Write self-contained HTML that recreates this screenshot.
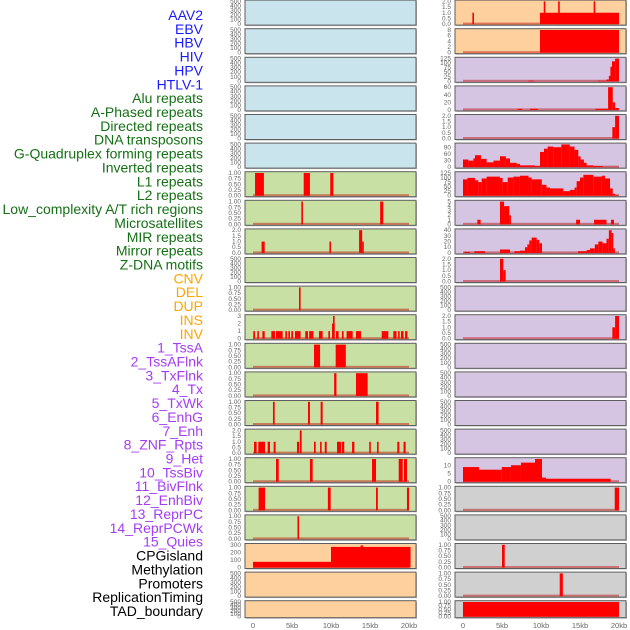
<!DOCTYPE html>
<html><head><meta charset="utf-8">
<style>
html,body{margin:0;padding:0;background:#fff;}
svg{display:block;font-family:"Liberation Sans",sans-serif;}
</style></head>
<body>
<svg id="chart" width="630" height="630" viewBox="0 0 630 630" xmlns="http://www.w3.org/2000/svg"></svg>
<script>
// ---- data ----
const labelNames = ["AAV2","EBV","HBV","HIV","HPV","HTLV-1","Alu repeats","A-Phased repeats","Directed repeats","DNA transposons","G-Quadruplex forming repeats","Inverted repeats","L1 repeats","L2 repeats","Low_complexity A/T rich regions","Microsatellites","MIR repeats","Mirror repeats","Z-DNA motifs","CNV","DEL","DUP","INS","INV","1_TssA","2_TssAFlnk","3_TxFlnk","4_Tx","5_TxWk","6_EnhG","7_Enh","8_ZNF_Rpts","9_Het","10_TssBiv","11_BivFlnk","12_EnhBiv","13_ReprPC","14_ReprPCWk","15_Quies","CPGisland","Methylation","Promoters","ReplicationTiming","TAD_boundary"];
const labelGroups = ["v","v","v","v","v","v","r","r","r","r","r","r","r","r","r","r","r","r","r","s","s","s","s","s","c","c","c","c","c","c","c","c","c","c","c","c","c","c","c","o","o","o","o","o"];
const xTickKb = [0,5,10,15,20];
const xTickLabels = ["0","5kb","10kb","15kb","20kb"];

const ticks500 = [0,100,200,300,400,500];
const ticks1q = [0,0.25,0.5,0.75,1];
const ticks2h = [0,0.5,1,1.5,2];
const ticks3 = [0,1,2,3];
const ticks300 = [0,100,200,300];
const ticks8 = [0,2,4,6,8];
const ticks125 = [0,25,50,75,100,125];
const ticks60 = [0,20,40,60];
const ticks90 = [0,30,60,90];
const ticks5 = [0,1,2,3,4,5];
const ticks40 = [0,10,20,30,40];
const ticks10 = [0,5,10];

// segments: [startKb, endKb, value]
const segL06 = [[0.26,1.4,1],[6.5,7.3,1],[9.9,10.3,1]];
const segL07 = [[6.2,6.4,1],[16.3,16.7,1]];
const segL08 = [[1.1,1.5,1],[9.8,10.0,1],[13.6,14.0,2],[14.0,14.2,1]];
const segL10 = [[5.9,6.1,1]];
const segL11 = [[0.04,0.26,1],[0.55,0.72,1],[1.2,1.5,1],[2.35,2.82,1],[2.95,3.8,1],[4.15,4.36,1],[4.53,4.74,1],[4.91,5.13,1],[5.38,6.1,1],[6.7,7.05,1],[7.2,7.74,1],[8.46,8.93,1],[9.66,9.87,1],[10.13,10.47,2],[10.26,10.38,3],[10.64,10.98,1],[11.4,11.62,1],[12.0,12.78,1],[13.2,13.85,1],[16.5,17.35,1],[17.99,18.4,1],[18.6,18.76,1],[18.97,19.3,1],[19.5,19.8,1]];
const segL12 = [[7.82,8.6,1],[10.6,11.9,1]];
const segL13 = [[10.4,10.7,1],[13.2,14.7,1]];
const segL14 = [[2.56,2.78,1],[7.05,7.3,1],[8.67,8.93,1],[15.77,16.1,1]];
const segL15 = [[0.13,0.47,1],[0.68,1.54,1],[1.88,2.18,1],[2.65,2.9,1],[5.64,5.9,1],[6.0,6.24,2],[7.82,8.04,1],[8.6,8.8,1],[9.2,9.45,1],[10.77,11.3,1],[11.4,11.7,1],[12.7,13.0,1],[14.9,15.1,1],[15.9,16.1,1],[18.5,18.76,1],[19.3,19.57,1]];
const segL16 = [[2.95,3.3,1],[7.3,7.65,1],[15.26,15.77,1],[18.68,19.2,1],[19.35,19.74,1]];
const segL17 = [[0.72,1.54,1],[9.6,9.96,1],[15.77,16.0,1],[19.74,20,1]];
const segL18 = [[5.7,5.9,1]];
const segL19 = [[0,10,75],[10,20.2,272],[13.8,14.1,292]];

const segR00 = [[1.2,1.37,1],[9.87,20,1],[10.35,10.5,2],[12.2,12.35,2],[16.75,16.9,2]];
const segR01 = [[9.87,20,8]];
const segR02 = [[8.4,9.1,3],[17.3,18.4,3],[18.4,18.7,10],[18.7,18.9,30],[18.9,19.1,80],[19.1,19.5,110],[19.5,20,125]];
const segR03 = [[7.0,7.6,3],[8.6,9.6,3],[17.0,18.6,3],[18.6,19.2,60],[19.2,19.5,20],[19.5,20,5]];
const segR04 = [[19.15,19.5,1],[19.5,20,2]];
const segR05 = [[0,0.68,35],[0.68,1.32,30],[1.32,1.54,40],[1.54,2.3,55],[2.3,3.03,38],[3.03,3.9,22],[3.9,4.74,30],[4.74,5.5,50],[5.5,6.03,40],[6.03,6.88,20],[6.88,7.3,15],[7.3,9.2,8],[9.2,9.87,5],[9.87,10.38,70],[10.38,10.85,85],[10.85,11.58,95],[11.58,12.6,92],[12.6,13.7,105],[13.7,14.3,95],[14.3,14.78,80],[14.78,15.08,50],[15.08,15.5,35],[15.5,15.85,20],[15.85,16.7,8],[16.7,17.9,5],[17.9,19.91,1]];
const segR06 = [[0,0.56,90],[0.56,1.54,98],[1.54,1.97,85],[1.97,2.39,75],[2.39,3.03,95],[3.03,4.74,105],[4.74,5.08,98],[5.08,5.73,75],[5.73,6.45,100],[6.45,7.3,105],[7.3,8.4,110],[8.4,8.8,100],[8.8,10.1,90],[10.1,10.7,60],[10.7,11.15,45],[11.15,12.86,40],[12.86,13.7,25],[13.7,14.3,32],[14.3,14.57,45],[14.57,15.0,80],[15.0,15.43,100],[15.43,16.7,115],[16.7,17.8,105],[17.8,18.2,110],[18.2,18.85,95],[18.85,19.2,40],[19.2,19.49,10],[19.49,19.91,3]];
const segR07 = [[1.84,2.26,1],[4.74,5.26,5],[5.26,5.94,4],[5.94,6.03,2],[14.5,15.0,1],[16.8,18.4,1],[18.97,19.36,1]];
const segR08 = [[0.18,0.9,2],[1.45,2.82,3],[4.74,6.03,6],[6.58,7.3,3],[7.3,7.95,4],[7.95,8.25,10],[8.25,8.5,15],[8.5,8.8,22],[8.8,9.44,27],[9.44,9.78,23],[9.78,10.13,17],[14.74,15.85,3],[15.85,16.28,5],[16.28,16.9,8],[16.9,17.35,15],[17.35,17.9,20],[17.9,18.4,17],[18.4,18.7,25],[18.7,19.06,40],[19.06,19.27,35],[19.27,19.44,8]];
const segR09 = [[4.74,5.17,2],[5.17,5.47,1]];
const segR11 = [[19.15,19.5,1],[19.5,20,2]];
const segR16 = [[0,2.05,8.9],[2.05,4.97,7.3],[4.97,6.15,8.9],[6.15,7.43,10],[7.43,9.23,11.6],[9.23,10.13,13.8],[10.13,10.64,2.5],[10.64,18.93,1.8]];
const segR17 = [[19.45,20,1]];
const segR19 = [[5.0,5.35,1]];
const segR20 = [[12.4,12.8,1]];
const segR21 = [[0,20,1]];

// panel styling / config (not data values)
const BG = {b:"#c9e4ec", g:"#c9e0a4", o:"#fed09d", p:"#d5c5e2", k:"#d0d0d0"};
const leftPanels = [
 ["b",ticks500,null,500],["b",ticks500,null,500],["b",ticks500,null,500],["b",ticks500,null,500],["b",ticks500,null,500],["b",ticks500,null,500],
 ["g",ticks1q,segL06,1],["g",ticks1q,segL07,1],["g",ticks2h,segL08,2],["g",ticks500,null,500],["g",ticks1q,segL10,1],["g",ticks3,segL11,3],
 ["g",ticks1q,segL12,1],["g",ticks1q,segL13,1],["g",ticks1q,segL14,1],["g",ticks2h,segL15,2],["g",ticks1q,segL16,1],["g",ticks1q,segL17,1],["g",ticks1q,segL18,1],
 ["o",ticks300,segL19,300],["o",ticks500,null,500],["o",ticks500,null,500]
];
const rightPanels = [
 ["o",ticks2h,segR00,2],["o",ticks8,segR01,8],
 ["p",ticks125,segR02,125],["p",ticks60,segR03,60],["p",ticks2h,segR04,2],["p",ticks90,segR05,105],["p",ticks125,segR06,125],["p",ticks5,segR07,5],["p",ticks40,segR08,40],["p",ticks2h,segR09,2],["p",ticks500,null,500],["p",ticks2h,segR11,2],
 ["p",ticks500,null,500],["p",ticks500,null,500],["p",ticks500,null,500],["p",ticks500,null,500],["p",ticks10,segR16,13.8],
 ["k",ticks1q,segR17,1],["k",ticks500,null,500],["k",ticks1q,segR19,1],["k",ticks1q,segR20,1],["k",ticks1q,segR21,1]
];

// ---- drawing ----
const NS="http://www.w3.org/2000/svg";
const svg=document.getElementById("chart");
function mk(tag,attrs,parent){const e=document.createElementNS(NS,tag);for(const k in attrs)e.setAttribute(k,attrs[k]);(parent||svg).appendChild(e);return e;}
const COLX=[{x0:245,x1:416,zero:253,tickX:241},{x0:455,x1:626,zero:463,tickX:451}];
const KBPX=7.8;
function xScale(col,kb){return COLX[col].zero+kb*KBPX;}
function rowTop(i){return 0.1+28.6*i;}
function rowH(i){return i===21?17:25;}
function yScale(top,h,v,vmax){const y0=top+h-1,y1=top+1.3;return y0-(v/vmax)*(y0-y1);}
function fmtTick(t,ticks){
  if(ticks===ticks1q) return t.toFixed(2);
  if(ticks===ticks2h) return t.toFixed(1);
  return String(t);
}
const groupColor={v:"#1a1aff",r:"#157015",s:"#ffa500",c:"#a43cf5",o:"#000000"};

// labels
labelNames.forEach((n,i)=>{
  const t=mk("text",{x:203,y:(15+i*13.86+5).toFixed(1),"text-anchor":"end","font-size":"14",fill:groupColor[labelGroups[i]]});
  
  
  t.textContent=n;
});

function drawPanel(col,i,cfg){
  const [bgKey,ticks,segs,vmax]=cfg;
  const c=COLX[col], top=rowTop(i), h=rowH(i);
  const g=mk("g",{});
  
  
  mk("rect",{x:c.x0+1,y:top+1,width:c.x1-c.x0,height:h,fill:"#b8b8b8"},g);
  mk("rect",{x:c.x0,y:top,width:c.x1-c.x0,height:h,fill:BG[bgKey],stroke:"#5e5e5e","stroke-width":1},g);
  ticks.forEach(t=>{
    const y=yScale(top,h,t,vmax);
    const tx=mk("text",{x:c.tickX,y:(y+2).toFixed(1),"text-anchor":"end","font-size":"6.5",fill:"#666"},g);
    
    
    tx.textContent=fmtTick(t,ticks);
  });
  if(segs){
    const by=yScale(top,h,0,vmax);
    const bl=mk("rect",{x:xScale(col,0),y:by-1.5,width:xScale(col,20)-xScale(col,0),height:2,fill:"rgba(190,0,0,0.45)"},g);
    
    
    segs.forEach(s=>{
      const xa=xScale(col,s[0]),xb=xScale(col,s[1]);
      const yt=yScale(top,h,s[2],vmax);
      const r=mk("rect",{x:xa.toFixed(2),y:yt.toFixed(2),width:Math.max(1.6,xb-xa).toFixed(2),height:(by-yt).toFixed(2),fill:"#ff0000"},g);
      
      
    });
  }
}
leftPanels.forEach((cfg,i)=>drawPanel(0,i,cfg));
rightPanels.forEach((cfg,i)=>drawPanel(1,i,cfg));

// x axis
[0,1].forEach(col=>{
  xTickKb.forEach((kb,j)=>{
    const t=mk("text",{x:xScale(col,kb),y:628,"text-anchor":"middle","font-size":"7.5",fill:"#666"});
    
    
    t.textContent=xTickLabels[j];
  });
});
</script>
</body></html>
